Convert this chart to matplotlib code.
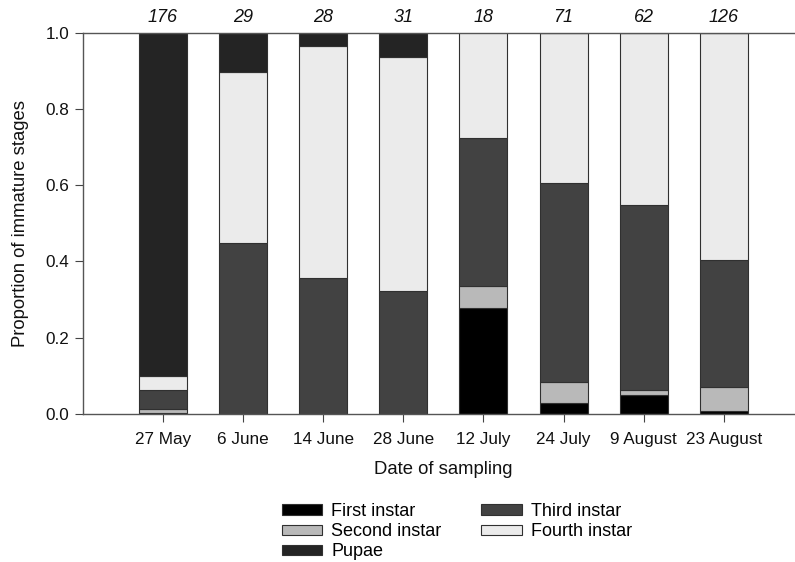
import matplotlib
matplotlib.use("Agg")
import matplotlib.pyplot as plt
import numpy as np

plt.rcParams['font.family'] = ['Liberation Sans', 'DejaVu Sans']

dates = ["27 May", "6 June", "14 June", "28 June", "12 July", "24 July", "9 August", "23 August"]
counts = [176, 29, 28, 31, 18, 71, 62, 126]

first_instar = [0.003, 0.0, 0.0, 0.0, 0.278, 0.028, 0.048, 0.008]
second_instar = [0.009, 0.0, 0.0, 0.0, 0.056, 0.056, 0.014, 0.063]
third_instar = [0.050, 0.448, 0.357, 0.323, 0.389, 0.521, 0.486, 0.333]
fourth_instar = [0.038, 0.448, 0.607, 0.613, 0.278, 0.394, 0.452, 0.595]
pupae = [0.900, 0.104, 0.036, 0.065, 0.0, 0.0, 0.0, 0.0]

series = [
    ("First instar", first_instar, "#000000"),
    ("Second instar", second_instar, "#b9b9b9"),
    ("Third instar", third_instar, "#424242"),
    ("Fourth instar", fourth_instar, "#ebebeb"),
    ("Pupae", pupae, "#242424"),
]

W, H = 795, 562
fig = plt.figure(figsize=(W/100, H/100), dpi=100)
left, right, top, bot = 82.7, 804, 32.7, 413.7
ax = fig.add_axes([left/W, 1-bot/H, (right-left)/W, (bot-top)/H])

x = np.arange(len(dates))
bottom = np.zeros(len(dates))
handles = {}
for name, vals, col in series:
    vals = np.array(vals)
    b = ax.bar(x, vals, width=0.6, bottom=bottom, color=col, edgecolor="#303030", linewidth=0.8, label=name)
    handles[name] = b
    bottom += vals

ax.set_xlim(-1, 8)
ax.set_ylim(0, 1.0)
ax.set_yticks([0, 0.2, 0.4, 0.6, 0.8, 1.0])
ax.set_yticklabels(["0.0", "0.2", "0.4", "0.6", "0.8", "1.0"])
ax.set_xticks(x)
ax.set_xticklabels(dates)
ax.tick_params(axis='both', labelsize=12.3, direction='out', length=5.5, width=0.8, color="#444444", labelcolor="#111111")
ax.tick_params(axis='x', pad=8)
ax.tick_params(axis='y', pad=4)

ax.spines['right'].set_visible(False)
for s in ['left', 'top', 'bottom']:
    ax.spines[s].set_color("#555555")
    ax.spines[s].set_linewidth(1.0)

ax.set_ylabel("Proportion of immature stages", fontsize=13.3, color="#111111", labelpad=12)
ax.set_xlabel("Date of sampling", fontsize=13.3, color="#111111", labelpad=10)

for xi, n in zip(x, counts):
    ax.text(xi, 1 + 15/381, str(n), ha='center', va='center', fontsize=13, style='italic',
            color="#111111", transform=ax.get_xaxis_transform())

order = ["First instar", "Second instar", "Pupae", "Third instar", "Fourth instar"]
fig.legend([handles[o] for o in order], order, ncol=2, loc='upper left',
           bbox_to_anchor=(281.5/W, 1-503/H), frameon=False, fontsize=13,
           borderpad=0, borderaxespad=0, handlelength=2.26, handleheight=0.52,
           handletextpad=0.5, columnspacing=2.2, labelspacing=0.18)

fig.savefig("out.png", dpi=100)
